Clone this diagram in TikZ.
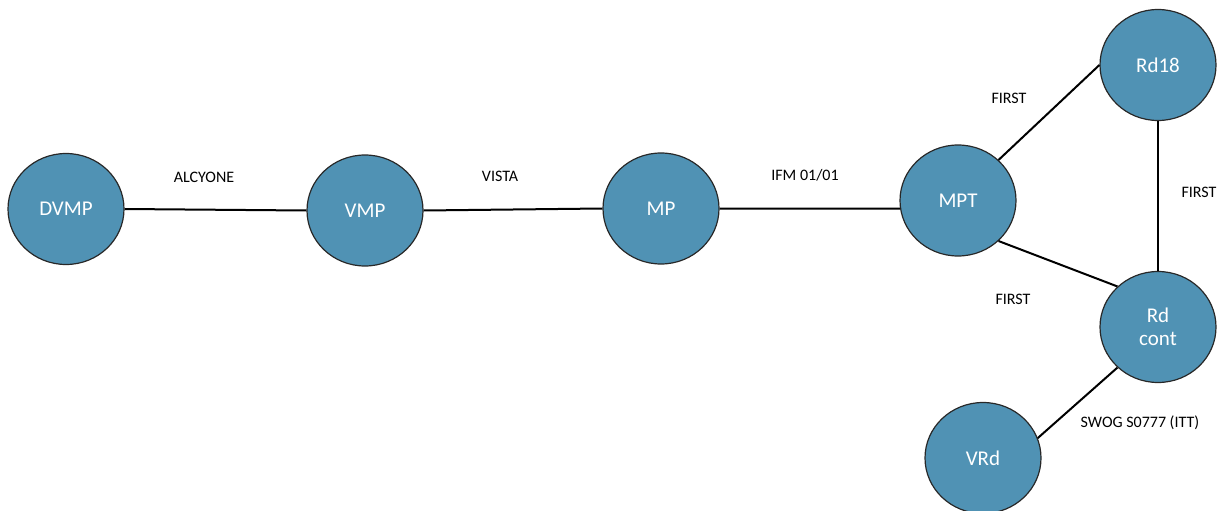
\documentclass[tikz,border=0pt]{standalone}
\usepackage{fontspec}
\setmainfont{Carlito}
\usetikzlibrary{shapes.geometric}
\definecolor{nodeblue}{RGB}{80,146,180}
\definecolor{edgegray}{RGB}{40,40,40}
\begin{document}
\begin{tikzpicture}[x=1pt,y=-1pt,
  circ/.style={ellipse, draw=edgegray, line width=1.2pt, fill=nodeblue,
    minimum width=116pt, minimum height=111pt, inner sep=0pt,
    text=white, font=\fontsize{21}{25}\selectfont, align=center},
  link/.style={draw=black, line width=2pt},
  lbl/.style={font=\fontsize{16}{19}\selectfont, text=black, inner sep=0pt}]
\useasboundingbox (0,0) rectangle (1223,511);
\node[circ] (dvmp) at (66,209) {DVMP};
\node[circ] (vmp) at (365,210.5) {VMP};
\node[circ] (mp) at (661,208.5) {MP};
\node[circ] (mpt) at (958,200.5) {MPT};
\node[circ] (rd18) at (1158,65) {Rd18};
\node[circ] (rdc) at (1158,327) {Rd\\[-2pt]cont};
\node[circ] (vrd) at (983,458) {VRd};
\draw[link] (dvmp.east) -- (vmp.west);
\draw[link] (vmp.east) -- (mp.west);
\draw[link] (mp.east) -- (mpt.188);
\draw[link] (mpt.45) -- (rd18.west);
\draw[link] (mpt.-45) -- (rdc.135);
\draw[link] (rd18.south) -- (rdc.north);
\draw[link] (rdc.225) -- (vrd.20);
\node[lbl] (l1) at (204,177) {ALCYONE};
\node[lbl] (l2) at (500,176) {VISTA};
\node[lbl] (l3) at (805,175) {IFM 01/01};
\node[lbl] (l4) at (1009,98) {FIRST};
\node[lbl] (l5) at (1199,192) {FIRST};
\node[lbl] (l6) at (1013,299) {FIRST};
\node[lbl] (l7) at (1140,423) {SWOG S0777 (ITT)};
\end{tikzpicture}
\end{document}
